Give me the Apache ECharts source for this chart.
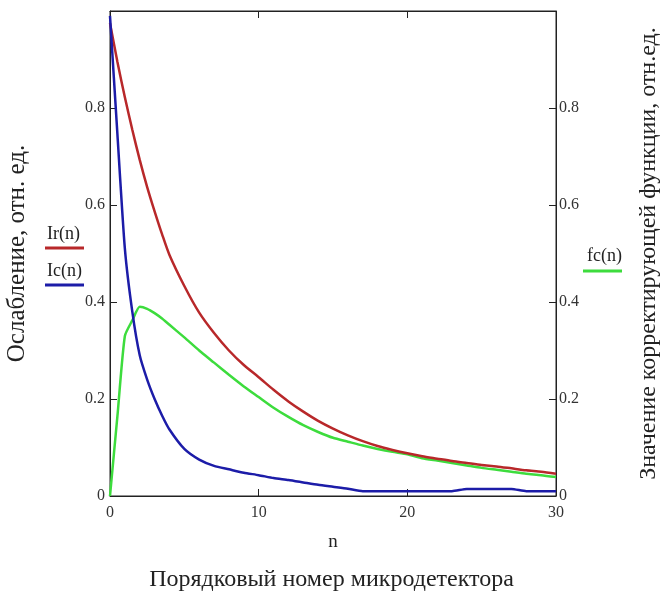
<!DOCTYPE html>
<html>
<head>
<meta charset="utf-8">
<script src="https://cdn.jsdelivr.net/npm/echarts@6/dist/echarts.min.js"></script>
<style>
  html, body { margin: 0; padding: 0; background: #fff; }
  #chart { width: 663px; height: 591px; }
</style>
</head>
<body>
<div id="chart"></div>
<script>
// порядковый номер микродетектора (шаг 0.5 в начале, где кривые круто идут вниз)
const nValues = [0, 0.5, 1, 1.5, 2, 2.5, 3, 3.5, 4, 5, 6, 7, 8, 9, 10, 11, 12, 13, 14, 15, 16, 17, 18, 19, 20, 21, 22, 23, 24, 25, 26, 27, 28, 29, 30]

const irValues = [0.975, 0.895, 0.822, 0.755, 0.693, 0.637, 0.587, 0.54, 0.497, 0.433, 0.378, 0.336, 0.300, 0.270, 0.245, 0.219,
  0.195, 0.174, 0.155, 0.139, 0.125, 0.113, 0.103, 0.095, 0.088, 0.082, 0.077, 0.072, 0.068, 0.064, 0.061, 0.057, 0.053, 0.050, 0.046]

const icValues = [0.99, 0.745, 0.51, 0.38, 0.29, 0.24, 0.20, 0.166, 0.137, 0.097, 0.075, 0.062, 0.055, 0.048, 0.043, 0.037,
  0.033, 0.028, 0.023, 0.019, 0.015, 0.010, 0.010, 0.010, 0.010, 0.010, 0.010, 0.010, 0.0145, 0.0145, 0.0145, 0.0145, 0.010, 0.010, 0.010]

const fcValues = [0, 0.165, 0.33, 0.362, 0.39, 0.386, 0.377, 0.366, 0.353, 0.327, 0.300, 0.275, 0.250, 0.226, 0.204, 0.182,
  0.163, 0.146, 0.132, 0.120, 0.112, 0.104, 0.097, 0.091, 0.086, 0.078, 0.073, 0.068, 0.063, 0.058, 0.054, 0.050, 0.046, 0.043, 0.039]

const yTicks = [0, 0.2, 0.4, 0.6, 0.8]

const RED = '#b8282a'
const BLUE = '#1c1ca8'
const GREEN = '#3ddc3d'
const FONT = '"Liberation Serif", "Times New Roman", serif'
const INK = '#222'

const pairs = (ys) => nValues.map((n, i) => [n, ys[i]])

// верхнее значение 1 в Mathcad не подписано
const yLabel = (v) => {
  const r = Math.round(v * 10) / 10
  return yTicks.includes(r) ? String(r) : ''
}

const chart = echarts.init(document.getElementById('chart'))

const frameAxis = {
  axisLine: { onZero: false, lineStyle: { color: INK } },
  axisTick: { inside: true, length: 7, lineStyle: { color: INK } },
  splitLine: { show: false },
}

const option = {
  animation: false,
  backgroundColor: '#fff',
  title: {
    text: 'Порядковый номер микродетектора',
    left: 'center',
    top: 563,
    textStyle: { fontFamily: FONT, fontSize: 24, fontWeight: 'normal', color: INK },
  },
  grid: {
    left: 110,
    right: 107,
    top: 11,
    bottom: 95,
    outerBoundsMode: 'none',
    show: true,
    borderColor: INK,
    borderWidth: 1,
  },
  xAxis: [
    {
      ...frameAxis,
      type: 'value',
      min: 0,
      max: 30,
      interval: 10,
      name: 'n',
      nameLocation: 'middle',
      nameGap: 37,
      nameTextStyle: { fontFamily: FONT, fontSize: 19, color: INK },
      axisLabel: { fontFamily: FONT, fontSize: 16, color: '#333', margin: 9 },
    },
    {
      ...frameAxis,
      type: 'value',
      position: 'top',
      min: 0,
      max: 30,
      interval: 10,
      axisLabel: { show: false },
    },
  ],
  yAxis: [
    {
      ...frameAxis,
      type: 'value',
      min: 0,
      max: 1,
      interval: 0.2,
      name: 'Ослабление, отн. ед.',
      nameLocation: 'middle',
      nameRotate: 90,
      nameGap: 80,
      nameTextStyle: { fontFamily: FONT, fontSize: 25, color: INK },
      axisLine: { show: true, onZero: false, lineStyle: { color: INK } },
      axisLabel: { fontFamily: FONT, fontSize: 16, color: '#333', margin: 5, formatter: yLabel },
    },
    {
      ...frameAxis,
      type: 'value',
      position: 'right',
      min: 0,
      max: 1,
      interval: 0.2,
      name: 'Значение корректирующей функции, отн.ед.',
      nameLocation: 'middle',
      nameRotate: 90,
      nameGap: 81,
      nameTextStyle: { fontFamily: FONT, fontSize: 24, color: INK },
      axisLine: { show: true, onZero: false, lineStyle: { color: INK } },
      axisLabel: { fontFamily: FONT, fontSize: 16, color: '#333', margin: 3, formatter: yLabel },
    },
  ],
  graphic: [
    { type: 'text', left: 47, top: 225, style: { text: 'Ir(n)', font: '18px ' + FONT, fill: INK } },
    { type: 'line', shape: { x1: 45, y1: 248, x2: 84, y2: 248 }, style: { stroke: RED, lineWidth: 3 } },
    { type: 'text', left: 47, top: 262, style: { text: 'Ic(n)', font: '18px ' + FONT, fill: INK } },
    { type: 'line', shape: { x1: 45, y1: 285, x2: 84, y2: 285 }, style: { stroke: BLUE, lineWidth: 3 } },
    { type: 'text', left: 587, top: 247, style: { text: 'fc(n)', font: '18px ' + FONT, fill: INK } },
    { type: 'line', shape: { x1: 583, y1: 271, x2: 622, y2: 271 }, style: { stroke: GREEN, lineWidth: 3 } },
  ],
  series: [
    {
      name: 'Ir(n)',
      type: 'line',
      data: pairs(irValues),
      showSymbol: false,
      smooth: 0.25,
      lineStyle: { color: RED, width: 2.5 },
      z: 3,
    },
    {
      name: 'Ic(n)',
      type: 'line',
      data: pairs(icValues),
      showSymbol: false,
      smooth: 0.2,
      lineStyle: { color: BLUE, width: 2.5 },
      z: 4,
    },
    {
      name: 'fc(n)',
      type: 'line',
      yAxisIndex: 1,
      data: pairs(fcValues),
      showSymbol: false,
      smooth: 0.2,
      lineStyle: { color: GREEN, width: 2.5 },
      z: 2,
    },
  ],
}

chart.setOption(option)
</script>
</body>
</html>
